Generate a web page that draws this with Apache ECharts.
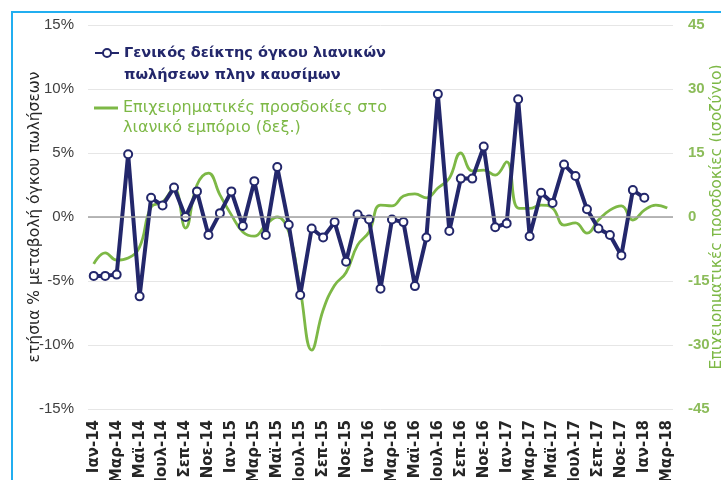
<!DOCTYPE html>
<html>
<head>
<meta charset="utf-8">
<script src="https://cdn.jsdelivr.net/npm/echarts@6/dist/echarts.min.js"></script>
<style>
  body { margin: 0; background: #fff; overflow: hidden; }
  #frame { position: absolute; left: 11px; top: 11px; width: 800px; height: 600px;
           border-left: 2px solid #21aef0; border-top: 2px solid #21aef0; }
  #main { position: absolute; left: 0; top: 0; width: 721px; height: 480px; }
</style>
</head>
<body>
<div id="frame"></div>
<div id="main"></div>
<script>
// μήνες Ιαν-14 .. Μαρ-18
var monthNames = ['Ιαν', 'Φεβ', 'Μαρ', 'Απρ', 'Μαϊ', 'Ιουν', 'Ιουλ', 'Αυγ', 'Σεπ', 'Οκτ', 'Νοε', 'Δεκ'];
var years = ['14', '15', '16', '17', '18'];
var months = [];
years.forEach(function (y) {
    monthNames.forEach(function (m) { months.push(m + '-' + y); });
});
months = months.slice(0, 51);

// γενικός δείκτης όγκου λιανικών πωλήσεων πλην καυσίμων (ετήσια % μεταβολή)
var retailVolume = [
    -4.6, -4.6, -4.5, 4.9, -6.2, 1.5, 0.9, 2.3, 0.0, 2.0, -1.4, 0.3,
    2.0, -0.7, 2.8, -1.4, 3.9, -0.6, -6.1, -0.9, -1.6, -0.4, -3.5, 0.2,
    -0.2, -5.6, -0.2, -0.4, -5.4, -1.6, 9.6, -1.1, 3.0, 3.0, 5.5, -0.8,
    -0.5, 9.2, -1.5, 1.9, 1.1, 4.1, 3.2, 0.6, -0.9, -1.4, -3.0, 2.1,
    1.5, null, null
];

// επιχειρηματικές προσδοκίες στο λιανικό εμπόριο (ισοζύγιο, δεξ. άξονας)
var expectations = [
    -11.0, -8.4, -10.1, -9.6, -7.0, 2.3, 3.5, 6.8, -2.6, 7.5, 10.3, 5.2,
    0.5, -3.5, -4.5, -1.9, 0.0, -3.5, -17.0, -31.2, -21.8, -16.0, -13.0, -6.6,
    -3.5, 2.8, 2.6, 4.9, 5.4, 4.5, 6.8, 9.1, 15.0, 10.8, 11.0, 9.8,
    12.9, 2.1, 2.0, 2.8, 2.1, -1.9, -1.4, -3.8, -0.7, 1.6, 2.6, -0.7,
    1.6, 2.8, 2.1
];

var navy = '#23276b';
var green = '#7db846';
var wide = 'DejaVu Sans, Verdana, sans-serif';

var chart = echarts.init(document.getElementById('main'));
chart.setOption({
    animation: false,
    textStyle: { fontFamily: 'Liberation Sans, Arial, sans-serif' },
    grid: { left: 88, right: 48, top: 25, bottom: 71, outerBoundsMode: 'none' },
    legend: [{
        left: 94, top: 20, padding: 0,
        itemWidth: 24, itemHeight: 10,
        data: [{ name: 'retail', textStyle: { color: navy, fontWeight: 'bold', fontSize: 14.5, fontFamily: wide } }],
        formatter: function () { return '\nΓενικός δείκτης όγκου λιανικών\nπωλήσεων πλην καυσίμων'; },
        textStyle: { lineHeight: 22 }
    }, {
        left: 94, top: 78, padding: 0,
        itemWidth: 24, itemHeight: 3, icon: 'rect',
        data: [{ name: 'exp', textStyle: { color: green, fontSize: 16, fontFamily: wide } }],
        formatter: function () { return '\nΕπιχειρηματικές προσδοκίες στο\nλιανικό εμπόριο (δεξ.)'; },
        textStyle: { lineHeight: 20 }
    }],
    xAxis: {
        type: 'category',
        data: months,
        boundaryGap: true,
        axisLine: { show: false, onZero: false },
        axisTick: { show: false },
        axisLabel: {
            interval: 1, rotate: 90, margin: 11,
            color: '#262626', fontWeight: 'bold', fontSize: 15, fontFamily: wide
        }
    },
    yAxis: [{
        type: 'value', min: -15, max: 15, interval: 5,
        name: 'ετήσια % μεταβολή όγκου πωλήσεων',
        nameLocation: 'middle', nameRotate: 90, nameGap: 45, nameMoveOverlap: false,
        nameTextStyle: { color: '#262626', fontSize: 15.5, fontFamily: wide },
        axisLabel: { formatter: '{value}%', color: '#404040', fontSize: 15, margin: 14 },
        axisLine: { show: false }, axisTick: { show: false },
        splitLine: { lineStyle: { color: '#e6e6e6', width: 1 } }
    }, {
        type: 'value', min: -45, max: 45, interval: 15,
        name: 'Επιχειρηματικές προσδοκίες (ισοζύγιο)',
        nameLocation: 'middle', nameRotate: 90, nameGap: 36, nameMoveOverlap: false,
        nameTextStyle: { color: green, fontSize: 15.5, fontFamily: wide },
        axisLabel: { color: '#8cbc5a', fontWeight: 'bold', fontSize: 15, margin: 15 },
        axisLine: { show: false }, axisTick: { show: false },
        splitLine: { show: false }
    }],
    series: [{
        name: 'exp',
        type: 'line',
        yAxisIndex: 1,
        data: expectations,
        smooth: 0.45,
        symbol: 'none',
        lineStyle: { color: green, width: 2.8 },
        itemStyle: { color: green },
        z: 2
    }, {
        name: 'retail',
        type: 'line',
        yAxisIndex: 0,
        data: retailVolume,
        symbol: 'circle',
        symbolSize: 8,
        showSymbol: true,
        showAllSymbol: true,
        lineStyle: { color: navy, width: 4 },
        itemStyle: { color: '#ffffff', borderColor: navy, borderWidth: 2 },
        markLine: {
            silent: true, symbol: 'none', label: { show: false },
            lineStyle: { color: '#a0a0a0', width: 1.5, type: 'solid' },
            data: [{ yAxis: 0 }]
        },
        z: 3
    }]
});
</script>
</body>
</html>
